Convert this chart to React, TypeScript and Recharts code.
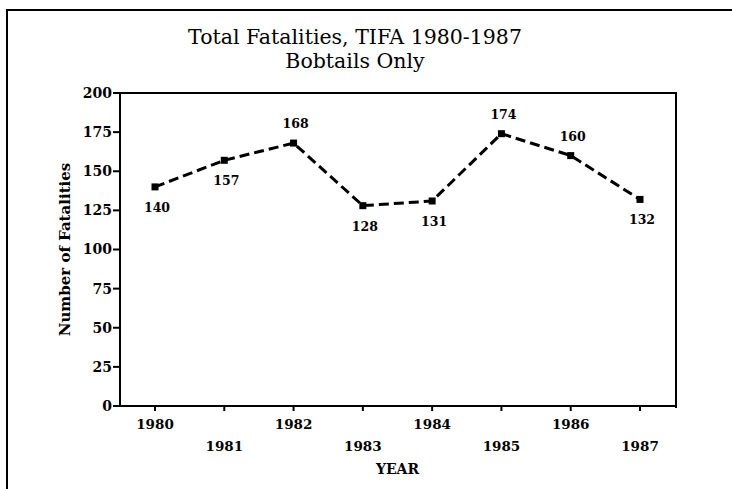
import { LineChart, Line, XAxis, YAxis, LabelList, Label } from 'recharts';

const YEARS = ['1980', '1981', '1982', '1983', '1984', '1985', '1986', '1987'];
const FATALITIES = [140, 157, 168, 128, 131, 174, 160, 132];
const LABEL_SIDE = ['below', 'below', 'above', 'below', 'below', 'above', 'above', 'below'];
const Y_TICKS = [0, 25, 50, 75, 100, 125, 150, 175, 200];

const FONT = '"DejaVu Serif", "Liberation Serif", serif';

const data = YEARS.map((year, i) => ({ year, value: FATALITIES[i] }));

const YearTick = (props: any) => {
  const { x, y, payload } = props;
  const idx = YEARS.indexOf(String(payload.value));
  return (
    <text
      x={x}
      y={y}
      dy={idx % 2 ? 38 : 16}
      textAnchor="middle"
      fill="#000"
      fontSize={13.5}
      fontWeight="bold"
      fontFamily={FONT}
    >
      {payload.value}
    </text>
  );
};

const SquareDot = (props: any) => {
  const { cx, cy, index } = props;
  if (cx == null || cy == null) return null;
  return <rect key={`dot-${index}`} x={cx - 3.5} y={cy - 3.5} width={7} height={7} fill="#000" />;
};

const PointLabel = (props: any) => {
  const { x, y, value, index } = props;
  const above = LABEL_SIDE[index] === 'above';
  return (
    <text
      x={x + 2}
      y={y}
      dy={above ? -15 : 25}
      textAnchor="middle"
      fill="#000"
      fontSize={12.5}
      fontWeight="bold"
      fontFamily={FONT}
    >
      {value}
    </text>
  );
};

export default function App() {
  return (
    <div style={{ position: 'absolute', left: 0, top: 0, width: 732, height: 489, background: '#fff', overflow: 'hidden' }}>
      {/* scanned page frame */}
      <div style={{ position: 'absolute', left: 6, top: 9, width: 740, height: 500, borderTop: '2px solid #000', borderLeft: '2px solid #000' }} />
      <div style={{ position: 'absolute', left: 0, top: 25, width: 710, textAlign: 'center', fontFamily: FONT, fontSize: 20.5, lineHeight: '24px', color: '#000' }}>
        Total Fatalities, TIFA 1980-1987
        <br />
        Bobtails Only
      </div>
      <LineChart
        width={732}
        height={489}
        data={data}
        margin={{ top: 93, right: 57, bottom: 53, left: 60 }}
        style={{ position: 'absolute', left: 0, top: 0 }}
      >
        <XAxis
          dataKey="year"
          type="category"
          padding={{ left: 35, right: 35 }}
          height={30}
          interval={0}
          tickSize={5}
          tickMargin={2}
          stroke="#000"
          strokeWidth={2}
          tick={<YearTick />}
        >
          <Label value="YEAR" position="insideBottom" offset={-38} fill="#000" fontSize={14} fontWeight="bold" fontFamily={FONT} />
        </XAxis>
        <YAxis
          domain={[0, 200]}
          ticks={Y_TICKS}
          interval={0}
          width={60}
          tickSize={7}
          tickMargin={1}
          stroke="#000"
          strokeWidth={2}
          tick={{ fill: '#000', fontSize: 14, fontWeight: 'bold', fontFamily: FONT }}
        >
          <Label value="Number of Fatalities" angle={-90} position="insideLeft" offset={5} style={{ textAnchor: 'middle' }} fill="#000" fontSize={15} fontWeight="bold" fontFamily={FONT} />
        </YAxis>
        <Line
          type="linear"
          dataKey="value"
          stroke="#000"
          strokeWidth={3}
          strokeDasharray="10 5"
          dot={<SquareDot />}
          activeDot={false}
          isAnimationActive={false}
        >
          <LabelList dataKey="value" content={<PointLabel />} />
        </Line>
      </LineChart>
      {/* top and right edges of the plot box */}
      <div style={{ position: 'absolute', left: 119, top: 92, width: 556, height: 314, borderTop: '2px solid #000', borderRight: '2px solid #000', pointerEvents: 'none' }} />
    </div>
  );
}
